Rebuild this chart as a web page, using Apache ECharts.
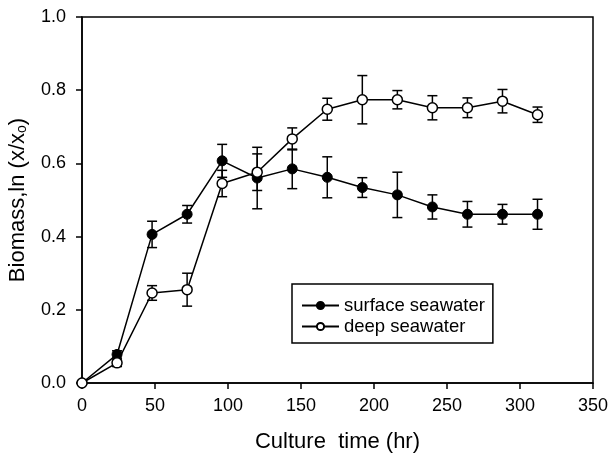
<!DOCTYPE html>
<html>
<head>
<meta charset="utf-8">
<script src="https://cdn.jsdelivr.net/npm/echarts@6/dist/echarts.min.js"></script>
<style>
  html, body { margin: 0; padding: 0; background: #fff; }
  #chart { width: 608px; height: 455px; }
</style>
</head>
<body>
<div id="chart"></div>
<script>
// culture time (hr)
var times = [0, 24, 48, 72, 96, 120, 144, 168, 192, 216, 240, 264, 288, 312];
// ln(x/x0), surface seawater
var surface = [0, 0.078, 0.406, 0.461, 0.607, 0.560, 0.585, 0.562, 0.534, 0.514, 0.481, 0.461, 0.461, 0.461];
var surfaceErr = [0, 0.01, 0.036, 0.024, 0.045, 0.084, 0.054, 0.056, 0.027, 0.062, 0.033, 0.035, 0.027, 0.041];
// ln(x/x0), deep seawater
var deep = [0, 0.055, 0.246, 0.255, 0.545, 0.576, 0.667, 0.748, 0.774, 0.774, 0.752, 0.752, 0.770, 0.733];
var deepErr = [0, 0.01, 0.02, 0.045, 0.036, 0.05, 0.03, 0.03, 0.066, 0.025, 0.033, 0.027, 0.032, 0.021];

var FONT = 'Liberation Sans, Arial, sans-serif';

function pairs(vals) {
    return times.map(function (t, i) { return [t, vals[i]]; });
}
function errData(vals, errs) {
    return times.map(function (t, i) { return [t, vals[i], errs[i]]; });
}

// draws a vertical error bar with caps
function renderErr(params, api) {
    var x = api.value(0), y = api.value(1), e = api.value(2);
    if (!e) return null;
    var top = api.coord([x, y + e]);
    var bot = api.coord([x, y - e]);
    var w = 5;
    var st = { stroke: '#000', lineWidth: 1.5 };
    return {
        type: 'group',
        children: [
            { type: 'line', shape: { x1: top[0], y1: top[1], x2: bot[0], y2: bot[1] }, style: st },
            { type: 'line', shape: { x1: top[0] - w, y1: top[1], x2: top[0] + w, y2: top[1] }, style: st },
            { type: 'line', shape: { x1: bot[0] - w, y1: bot[1], x2: bot[0] + w, y2: bot[1] }, style: st }
        ]
    };
}

var chart = echarts.init(document.getElementById('chart'));

chart.setOption({
    animation: false,
    backgroundColor: '#fff',
    grid: {
        left: 82, right: 15, top: 17, bottom: 72,
        outerBoundsMode: 'none', containLabel: false,
        show: true, borderColor: '#000', borderWidth: 1.5
    },
    legend: {
        data: ['surface seawater', 'deep seawater'],
        orient: 'vertical',
        left: 292, top: 284,
        itemWidth: 37, itemHeight: 9, itemGap: 2, itemTextGap: 13,
        padding: [12, 8, 7, 9],
        borderColor: '#000', borderWidth: 1.5,
        textStyle: { fontFamily: FONT, fontSize: 18.5, color: '#000', lineHeight: 18 }
    },
    xAxis: {
        type: 'value', min: 0, max: 350, interval: 50,
        name: 'Culture  time (hr)',
        nameLocation: 'middle', nameGap: 48,
        nameTextStyle: { fontFamily: FONT, fontSize: 22, color: '#000' },
        axisLine: { lineStyle: { color: '#000', width: 1.5 } },
        axisTick: { show: true, length: 6, lineStyle: { color: '#000', width: 1.5 } },
        axisLabel: { fontFamily: FONT, fontSize: 18, color: '#000', margin: 14 },
        splitLine: { show: false }
    },
    yAxis: {
        type: 'value', min: 0, max: 1, interval: 0.2,
        name: '{n|Biomass,ln (x/x}{s|o}{n|)}',
        nameLocation: 'middle', nameRotate: 90, nameGap: 53,
        nameTextStyle: {
            fontFamily: FONT, fontSize: 22, color: '#000',
            rich: {
                n: { fontFamily: FONT, fontSize: 22, color: '#000' },
                s: { fontFamily: FONT, fontSize: 14, color: '#000', padding: [8, 0, 0, 0] }
            }
        },
        axisLine: { lineStyle: { color: '#000', width: 1.5 } },
        axisTick: { show: true, length: 6, lineStyle: { color: '#000', width: 1.5 } },
        axisLabel: {
            fontFamily: FONT, fontSize: 18, color: '#000', margin: 16,
            formatter: function (v) { return v.toFixed(1); }
        },
        splitLine: { show: false }
    },
    series: [
        {
            type: 'custom', name: 'surfErr', renderItem: renderErr,
            data: errData(surface, surfaceErr), z: 1, silent: true
        },
        {
            type: 'custom', name: 'deepErr', renderItem: renderErr,
            data: errData(deep, deepErr), z: 1, silent: true
        },
        {
            type: 'line', name: 'surface seawater', data: pairs(surface),
            symbol: 'circle', symbolSize: 10,
            lineStyle: { color: '#000', width: 1.5 },
            itemStyle: { color: '#000', borderColor: '#000', borderWidth: 1 },
            z: 3
        },
        {
            type: 'line', name: 'deep seawater', data: pairs(deep),
            symbol: 'circle', symbolSize: 10,
            lineStyle: { color: '#000', width: 1.5 },
            itemStyle: { color: '#fff', borderColor: '#000', borderWidth: 1.5 },
            z: 4
        }
    ]
});
</script>
</body>
</html>
